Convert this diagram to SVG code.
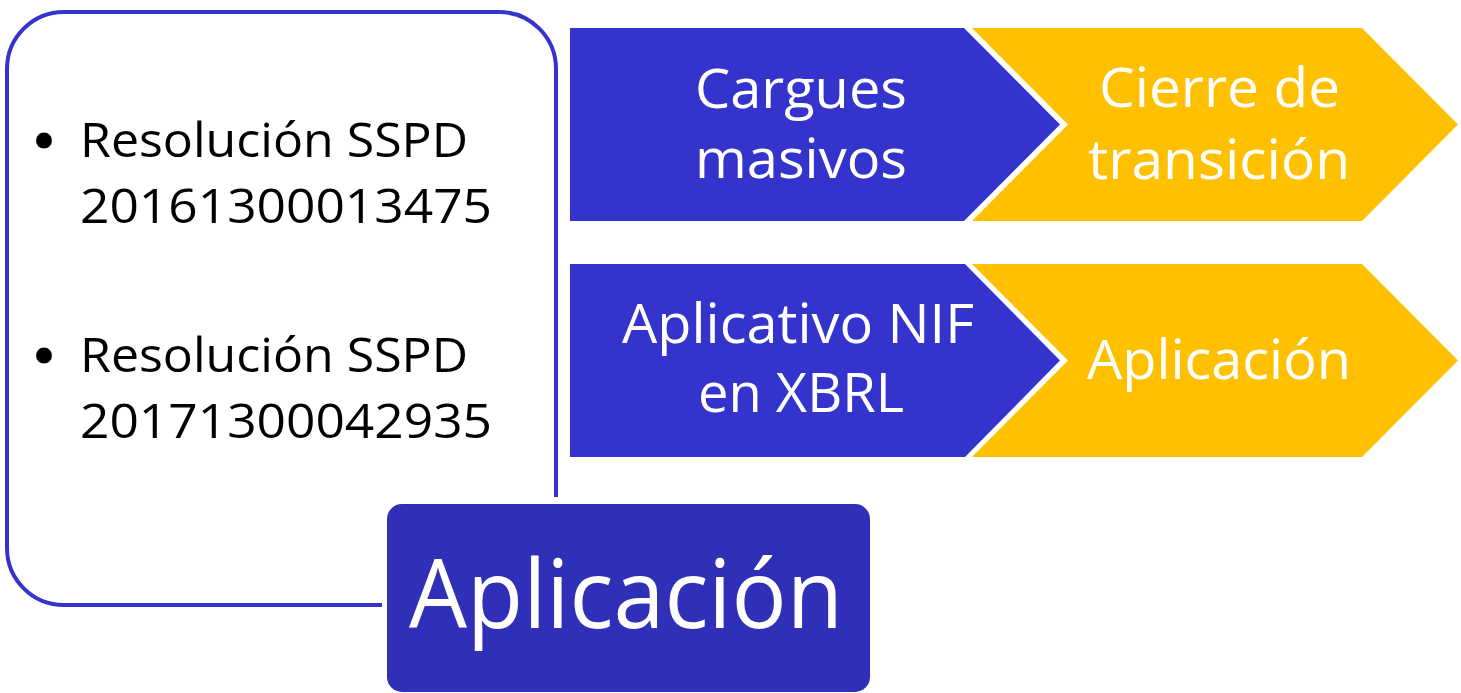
<svg xmlns="http://www.w3.org/2000/svg" width="1461" height="693" viewBox="0 0 1461 693">
<style>
.blue{fill:#3434CC}
.yellow{fill:#FFC000}
.wt{fill:#FFFFFF;font-family:"Open Sans","Noto Sans",sans-serif;text-anchor:middle}
.bt{fill:#000000;font-family:"Open Sans","Noto Sans",sans-serif}
.frame{fill:none;stroke:#3434CC;stroke-width:4}
</style>
<rect width="1461" height="693" fill="#FFFFFF"/>
<g id="connectors">
<path class="frame" d="M382 605 H64 A57 57 0 0 1 7 548 V69 A57 57 0 0 1 64 12 H499 A57 57 0 0 1 556 69 V497"/>
</g>
<g id="resoluciones">
<circle cx="44" cy="140.5" r="8" fill="#000"/>
<text class="bt" x="80" y="157" font-size="48" textLength="388" lengthAdjust="spacingAndGlyphs">Resolución SSPD</text>
<text class="bt" x="80" y="223" font-size="48" textLength="412" lengthAdjust="spacingAndGlyphs">20161300013475</text>
<circle cx="44" cy="355.5" r="8" fill="#000"/>
<text class="bt" x="80" y="372" font-size="48" textLength="388" lengthAdjust="spacingAndGlyphs">Resolución SSPD</text>
<text class="bt" x="80" y="438" font-size="48" textLength="412" lengthAdjust="spacingAndGlyphs">20171300042935</text>
</g>
<g id="cargues">
<polygon class="blue" points="570,28 964,28 1060,124.5 964,221 570,221"/>
<text class="wt" x="801" y="108" font-size="55" textLength="212" lengthAdjust="spacingAndGlyphs">Cargues</text>
<text class="wt" x="801" y="178" font-size="55" textLength="212" lengthAdjust="spacingAndGlyphs">masivos</text>
</g>
<g id="cierre">
<polygon class="yellow" points="972,28 1362,28 1458,124.5 1362,221 972,221 1068,124.5"/>
<text class="wt" x="1219.5" y="107" font-size="55" textLength="241" lengthAdjust="spacingAndGlyphs">Cierre de</text>
<text class="wt" x="1219" y="179" font-size="55" textLength="262" lengthAdjust="spacingAndGlyphs">transición</text>
</g>
<g id="aplicativo">
<polygon class="blue" points="570,264 965,264 1060,360.5 965,457 570,457"/>
<text class="wt" x="798" y="343" font-size="55" textLength="352" lengthAdjust="spacingAndGlyphs">Aplicativo NIF</text>
<text class="wt" x="801" y="412" font-size="55" textLength="206" lengthAdjust="spacingAndGlyphs">en XBRL</text>
</g>
<g id="aplicacion-yellow">
<polygon class="yellow" points="972,264 1362,264 1458,360.5 1362,457 972,457 1068,360.5"/>
<text class="wt" x="1219" y="379" font-size="55" textLength="264" lengthAdjust="spacingAndGlyphs">Aplicación</text>
</g>
<g id="aplicacion-main">
<rect x="387" y="504" width="483" height="188" rx="15" ry="15" fill="#2F2FB8"/>
<text class="wt" x="626" y="628" font-size="95" textLength="434" lengthAdjust="spacingAndGlyphs">Aplicación</text>
</g>
</svg>
